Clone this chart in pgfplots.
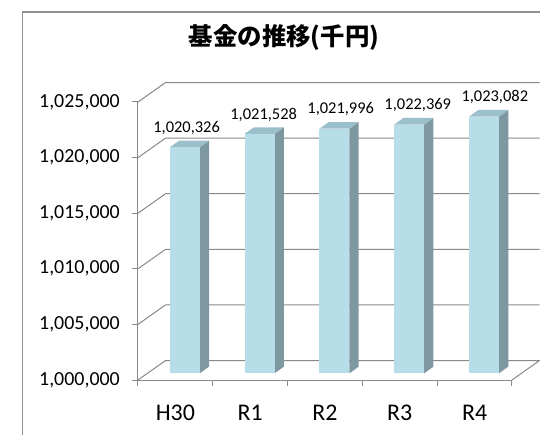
\documentclass[border=0pt]{standalone}
\usepackage{pgfplots}
\usepackage{pgfplotstable}
\pgfplotsset{compat=1.18}
\usepackage{fontspec}
\setmainfont{Carlito}
\newfontfamily\cjk{Noto Sans CJK JP}
\definecolor{barfront}{HTML}{B7DDE8}
\definecolor{barside}{HTML}{7D98A1}
\definecolor{bartop}{HTML}{9BBFCB}
\definecolor{gridc}{HTML}{898989}
\definecolor{framec}{HTML}{8F8F8F}

\pgfplotstableread{
x label v
0 H30 1020326
1 R1 1021528
2 R2 1021996
3 R3 1022369
4 R4 1023082
}\datatable

% one 3-D column: front, side and top faces in axis coordinates
\newcommand\tdbar[2]{%
  \begingroup
  \pgfkeys{/pgf/fpu=true,/pgf/fpu/output format=fixed}%
  \pgfmathparse{#2+600}\xdef\tdyT{\pgfmathresult}%
  \pgfmathparse{#2+1200}\xdef\tdyTT{\pgfmathresult}%
  \endgroup
  \pgfmathsetmacro\tdxl{#1-0.075}%
  \pgfmathsetmacro\tdxr{#1+0.325}%
  \pgfmathsetmacro\tdxlb{#1+0.05}%
  \pgfmathsetmacro\tdxrb{#1+0.45}%
  \edef\tdtemp{%
   \noexpand\addplot[fill=barside, draw=none] coordinates {(\tdxr,1000600) (\tdxrb,1001200) (\tdxrb,\tdyTT) (\tdxr,\tdyT)} -- cycle;%
   \noexpand\addplot[fill=bartop, draw=none] coordinates {(\tdxl,\tdyT) (\tdxlb,\tdyTT) (\tdxrb,\tdyTT) (\tdxr,\tdyT)} -- cycle;%
   \noexpand\addplot[fill=barfront, draw=none] coordinates {(\tdxl,1000600) (\tdxl,\tdyT) (\tdxr,\tdyT) (\tdxr,1000600)} -- cycle;%
  }\tdtemp
}

\begin{document}
\begin{tikzpicture}
\path[use as bounding box] (-138bp,-55bp) rectangle (402bp,380bp);
\draw[framec, line width=1.3bp] (-115.5bp,-60bp) -- (-115.5bp,368bp) -- (410bp,368bp);
\node[font={\fontsize{24.5}{26}\selectfont\cjk\bfseries}] at (146bp,342.5bp) {基金の推移(千円)};
\begin{axis}[
  at={(0bp,0bp)}, anchor=south west,
  scale only axis, width=374bp, height=278bp,
  xmin=-0.5, xmax=4.5, ymin=1000000, ymax=1025000,
  clip=false,
  axis x line*=bottom, axis y line*=left,
  axis line style={draw=gridc, line width=1bp},
  tick align=outside,
  major tick length=0bp, minor tick length=6bp,
  xtick={0,1,2,3,4}, xticklabels={H30,R1,R2,R3,R4},
  minor xtick={-0.5,0.5,1.5,2.5,3.5,4.5},
  ytick={1000000,1005000,1010000,1015000,1020000,1025000},
  minor ytick={1000000,1005000,1010000,1015000,1020000,1025000},
  minor tick style={draw=gridc, line width=1bp},
  scaled y ticks=false,
  yticklabel style={/pgf/number format/fixed, /pgf/number format/1000 sep={,}, /pgf/number format/assume math mode=true, font=\fontsize{20}{22}\selectfont, inner sep=0pt, xshift=-18bp},
  xticklabel style={font=\fontsize{24}{26}\selectfont, anchor=base, inner sep=0pt, yshift=-40bp},
]
% floor and walls with gridlines
\addplot[gridc, line width=1bp] coordinates {(-0.5,1000000) (-0.132,1001750) (4.868,1001750) (4.5,1000000)};
\addplot[gridc, line width=1bp] coordinates {(-0.5,1005000) (-0.132,1006750) (4.868,1006750)};
\addplot[gridc, line width=1bp] coordinates {(-0.5,1010000) (-0.132,1011750) (4.868,1011750)};
\addplot[gridc, line width=1bp] coordinates {(-0.5,1015000) (-0.132,1016750) (4.868,1016750)};
\addplot[gridc, line width=1bp] coordinates {(-0.5,1020000) (-0.132,1021750) (4.868,1021750)};
\addplot[gridc, line width=1bp] coordinates {(-0.5,1025000) (-0.132,1026750) (4.868,1026750)};
% columns
\pgfplotsinvokeforeach{0,...,4}{%
  \pgfplotstablegetelem{#1}{v}\of\datatable
  \edef\tdv{\pgfplotsretval}%
  \tdbar{#1}{\tdv}%
}
% value labels
\addplot[draw=none, mark=none, point meta=explicit,
  nodes near coords={\pgfmathprintnumber[fixed,1000 sep={,},assume math mode=true]{\pgfplotspointmeta}},
  every node near coord/.append style={font=\fontsize{16.5}{18}\selectfont, anchor=base, inner sep=0pt, yshift=21.5bp}]
  table[x expr=\thisrow{x}*1.03+0.15, y=v, meta=v] {\datatable};
\end{axis}
\end{tikzpicture}
\end{document}
